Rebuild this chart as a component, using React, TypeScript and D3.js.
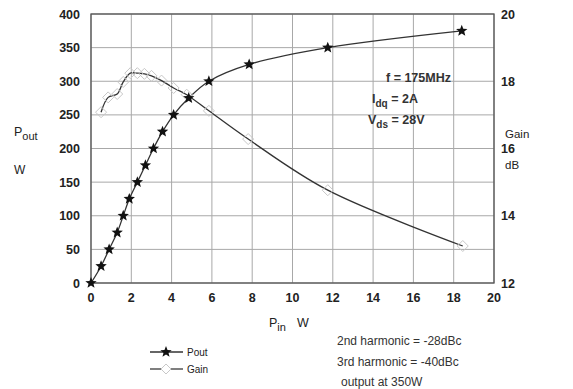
import React from "react";
import * as d3 from "d3";

const poutX = [0, 0.5, 0.9, 1.3, 1.6, 1.9, 2.3, 2.7, 3.1, 3.55, 4.1, 4.85, 5.85, 7.85, 11.75, 18.4];
const poutY = [0, 25, 50, 75, 100, 125, 150, 175, 200, 225, 250, 275, 300, 325, 350, 375];

const gainX = [0.5, 0.85, 1.3, 1.6, 1.95, 2.3, 2.65, 3.0, 3.5, 4.1, 4.75, 5.85, 7.8, 11.75, 18.45];
const gainY = [17.08, 17.52, 17.62, 17.98, 18.24, 18.24, 18.22, 18.16, 18.02, 17.8, 17.6, 17.12, 16.28, 14.76, 13.1];

const xTicks = [0, 2, 4, 6, 8, 10, 12, 14, 16, 18, 20];
const yTicks = [0, 50, 100, 150, 200, 250, 300, 350, 400];
const gainTicks = [12, 14, 16, 18, 20];
const gainGrid = [12, 13, 14, 15, 16, 17, 18, 19, 20];

const L = 91, R = 494, T = 14, B = 283;

function starPath(cx: number, cy: number, ro: number, ri: number) {
  const pts: string[] = [];
  for (let i = 0; i < 10; i++) {
    const r = i % 2 === 0 ? ro : ri;
    const a = -Math.PI / 2 + (i * Math.PI) / 5;
    pts.push(`${cx + r * Math.cos(a)},${cy + r * Math.sin(a)}`);
  }
  return "M" + pts.join("L") + "Z";
}

function diamond(cx: number, cy: number, r: number) {
  return `M${cx},${cy - r}L${cx + r},${cy}L${cx},${cy + r}L${cx - r},${cy}Z`;
}

export default function App() {
  const x = d3.scaleLinear().domain([0, 20]).range([L, R]);
  const y = d3.scaleLinear().domain([0, 400]).range([B, T]);
  const yg = d3.scaleLinear().domain([12, 20]).range([B, T]);

  const poutPts = poutX.map((v, i) => [x(v), y(poutY[i])] as [number, number]);
  const gainPts = gainX.map((v, i) => [x(v), yg(gainY[i])] as [number, number]);
  const line = d3.line().curve(d3.curveCatmullRom.alpha(0.5));

  const font = "Liberation Sans, Arial, sans-serif";
  const tickStyle: React.CSSProperties = { fontFamily: font, fontWeight: "bold", fontSize: 12.5, fill: "#222" };
  const txt: React.CSSProperties = { fontFamily: font, fontSize: 11.5, fill: "#222" };
  const ann: React.CSSProperties = { fontFamily: font, fontWeight: "bold", fontSize: 12.5, fill: "#333" };
  const note: React.CSSProperties = { fontFamily: font, fontSize: 12, fill: "#333" };

  return (
    <svg width={573} height={389} style={{ position: "absolute", left: 0, top: 0, background: "#fff" }}>
      {xTicks.map((t) => (
        <line key={"gx" + t} x1={x(t)} x2={x(t)} y1={T} y2={B} stroke="#a8a8a8" strokeWidth={1} />
      ))}
      {gainGrid.map((t) => (
        <line key={"gy" + t} x1={L} x2={R} y1={yg(t)} y2={yg(t)} stroke="#a8a8a8" strokeWidth={1} />
      ))}
      <rect x={L} y={T} width={R - L} height={B - T} fill="none" stroke="#555" strokeWidth={1.3} />

      {yTicks.map((t) => (
        <text key={"yl" + t} x={80} y={y(t) + 4.5} textAnchor="end" style={tickStyle}>{t}</text>
      ))}
      {xTicks.map((t) => (
        <text key={"xl" + t} x={x(t)} y={B + 19} textAnchor="middle" style={tickStyle}>{t}</text>
      ))}
      {gainTicks.map((t) => (
        <text key={"gl" + t} x={501} y={yg(t) + 4.5} style={tickStyle}>{t}</text>
      ))}

      <text x={14} y={136} style={{ ...txt, fontSize: 12.5 }}>P<tspan fontSize={11} dy={4}>out</tspan></text>
      <text x={14} y={174} style={{ ...txt, fontSize: 12 }}>W</text>
      <text x={505} y={138} style={txt}>Gain</text>
      <text x={505} y={169} style={txt}>dB</text>
      <text x={269} y={327} style={{ ...txt, fontSize: 12.5 }}>P<tspan fontSize={11} dy={4}>in</tspan><tspan dy={-4} dx={11}>W</tspan></text>

      <path d={line(gainPts) || ""} fill="none" stroke="#333" strokeWidth={1.3} />
      <path d={line(poutPts) || ""} fill="none" stroke="#333" strokeWidth={1.3} />
      {gainPts.map((p, i) => (
        <path key={"gd" + i} d={diamond(p[0], p[1], 5.5)} fill="none" stroke="#c8c8c8" strokeWidth={1} />
      ))}
      {poutPts.map((p, i) => (
        <path key={"ps" + i} d={starPath(p[0], p[1], 6, 2.6)} fill="#111" />
      ))}

      <text x={386} y={82} style={ann}>f = 175MHz</text>
      <text x={372} y={103} style={ann}>I<tspan fontSize={10} dy={4}>dq</tspan><tspan dy={-4}> = 2A</tspan></text>
      <text x={368} y={124} style={ann}>V<tspan fontSize={10} dy={4}>ds</tspan><tspan dy={-4}> = 28V</tspan></text>

      <text x={337} y={345} style={note}>2nd harmonic = -28dBc</text>
      <text x={337} y={366} style={note}>3rd harmonic = -40dBc</text>
      <text x={341} y={386} style={note}>output at 350W</text>

      <line x1={150} x2={183} y1={352} y2={352} stroke="#333" strokeWidth={1.3} />
      <path d={starPath(166, 352, 6, 2.6)} fill="#111" />
      <text x={187} y={356} style={{ ...txt, fontSize: 10 }}>Pout</text>
      <line x1={150} x2={183} y1={369} y2={369} stroke="#555" strokeWidth={1.3} />
      <path d={diamond(166, 369, 5)} fill="#fff" stroke="#c8c8c8" strokeWidth={1} />
      <text x={187} y={373} style={{ ...txt, fontSize: 10 }}>Gain</text>
    </svg>
  );
}
